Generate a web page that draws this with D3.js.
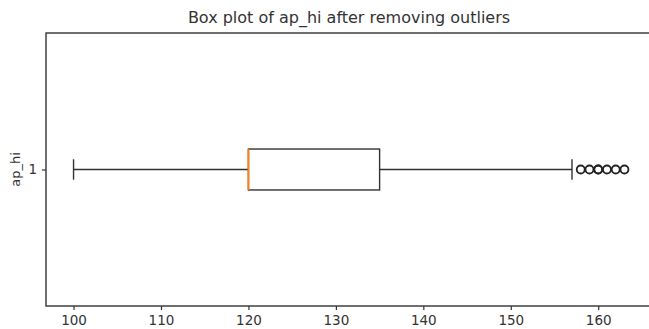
<html>
<head>
  <script src="https://d3js.org/d3.v7.min.js"></script>
  <style>
    body { margin: 0; background: #fff; }
    text { font-family: "DejaVu Sans", sans-serif; fill: #333; }
  </style>
</head>
<body>
  <script>
    // summary values
    var seriesName = 'ap_hi';
    var boxStats = { whiskerLo: 100, q1: 120, median: 120, q3: 135, whiskerHi: 157 };
    var fliers = [158, 159, 160, 160, 161, 162, 163];
    var xTicks = [100, 110, 120, 130, 140, 150, 160];
    var yTicks = [1];

    var W = 649, H = 329;
    var margin = { left: 46, top: 33, right: -3, bottom: 23 };

    var svg = d3.select('body').append('svg')
      .attr('width', W).attr('height', H);

    var x = d3.scaleLinear().domain([96.85, 166.15])
      .range([margin.left, W - margin.right]);
    var y = d3.scaleLinear().domain([1.5, 0.5])
      .range([margin.top, H - margin.bottom]);

    var ink = '#333';
    var boxH = y(1) - y(1.075);   // half box height (width 0.15)
    var capH = boxH / 2;

    // title
    svg.append('text')
      .attr('x', (margin.left + W - margin.right) / 2)
      .attr('y', 23)
      .attr('text-anchor', 'middle')
      .style('font-size', '16px')
      .text('Box plot of ap_hi after removing outliers');

    // axes
    var xAxis = d3.axisBottom(x).tickValues(xTicks).tickSize(4).tickPadding(5);
    var gx = svg.append('g')
      .attr('transform', 'translate(0,' + (H - margin.bottom) + ')')
      .call(xAxis);
    gx.select('.domain').remove();
    gx.selectAll('line').attr('stroke', ink).attr('stroke-width', 1.2);
    gx.selectAll('text').style('font-size', '13.5px').style('fill', ink);

    var yAxis = d3.axisLeft(y).tickValues(yTicks).tickFormat(d3.format('d'))
      .tickSize(4).tickPadding(5);
    var gy = svg.append('g')
      .attr('transform', 'translate(' + margin.left + ',0)')
      .call(yAxis);
    gy.select('.domain').remove();
    gy.selectAll('line').attr('stroke', ink).attr('stroke-width', 1.2);
    gy.selectAll('text').style('font-size', '13.5px').style('fill', ink);

    svg.append('text')
      .attr('transform', 'translate(20,' + y(1) + ') rotate(-90)')
      .attr('text-anchor', 'middle')
      .style('font-size', '13px')
      .text(seriesName);

    // frame
    svg.append('rect')
      .attr('x', margin.left).attr('y', margin.top)
      .attr('width', x.range()[1] - margin.left)
      .attr('height', y.range()[1] - margin.top)
      .attr('fill', 'none').attr('stroke', ink).attr('stroke-width', 1.4);

    var g = svg.append('g').attr('stroke', ink).attr('stroke-width', 1.4).attr('fill', 'none');
    var cy = y(1);

    // whiskers
    g.append('line').attr('x1', x(boxStats.whiskerLo)).attr('x2', x(boxStats.q1))
      .attr('y1', cy).attr('y2', cy);
    g.append('line').attr('x1', x(boxStats.q3)).attr('x2', x(boxStats.whiskerHi))
      .attr('y1', cy).attr('y2', cy);
    // caps
    [boxStats.whiskerLo, boxStats.whiskerHi].forEach(function(v) {
      g.append('line').attr('x1', x(v)).attr('x2', x(v))
        .attr('y1', cy - capH).attr('y2', cy + capH);
    });
    // box
    g.append('rect')
      .attr('x', x(boxStats.q1)).attr('y', cy - boxH)
      .attr('width', x(boxStats.q3) - x(boxStats.q1))
      .attr('height', 2 * boxH);
    // median
    g.append('line').attr('x1', x(boxStats.median)).attr('x2', x(boxStats.median))
      .attr('y1', cy - boxH).attr('y2', cy + boxH)
      .attr('stroke', '#ff7f0e').attr('stroke-width', 1.8);

    // outliers
    g.selectAll('circle.flier').data(fliers).enter()
      .append('circle').attr('class', 'flier')
      .attr('cx', function(d) { return x(d); })
      .attr('cy', cy)
      .attr('r', 4)
      .attr('stroke', '#222')
      .attr('stroke-width', 1.8);
  </script>
</body>
</html>
